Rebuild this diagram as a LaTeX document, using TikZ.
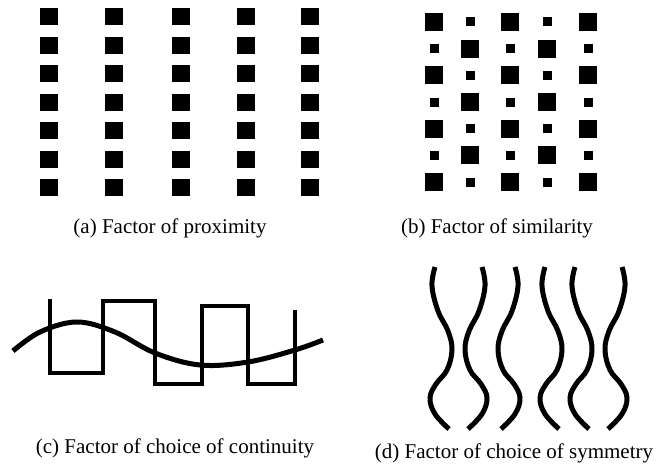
\documentclass[tikz,border=0pt]{standalone}
\usepackage{fontspec}
\setmainfont{Liberation Serif}
\begin{document}
\begin{tikzpicture}[x=1pt,y=-1pt,
  caption/.style={anchor=base,inner sep=0pt,font=\fontsize{21}{25}\selectfont},
  thick line/.style={line width=4.8pt,line cap=butt,line join=miter},
  wavy/.style={line width=5pt,line cap=butt}]
\useasboundingbox[fill=white] (0,0) rectangle (659,470);
% (a) proximity
\foreach \cx in {49,114,181,246,310}{
  \foreach \i in {0,...,6}{
    \fill ({\cx-9},{17+28.5*\i-8.5}) rectangle ++(18,17);
  }
}
\node[caption] (capa) at (170,234) {(a) Factor of proximity};
% (b) similarity
\foreach \cx [count=\c] in {434,470,510,547,588}{
  \foreach \i in {0,...,6}{
    \pgfmathtruncatemacro{\myparity}{mod(\c+\i,2)}
    \ifnum\myparity=1
      \fill ({\cx-9},{22+26.7*\i-9}) rectangle ++(18,18);
    \else
      \fill ({\cx-4.5},{22+26.7*\i-4.5}) rectangle ++(9,9);
    \fi
  }
}
\node[caption] (capb) at (497,234) {(b) Factor of similarity};
% (c) continuity
\draw[thick line] (50,299) -- (50,373) -- (103,373) -- (103,301) -- (155,301)
  -- (155,384) -- (202,384) -- (202,306) -- (248,306) -- (248,384)
  -- (295,384) -- (295,310);
\draw[wavy] plot[smooth,tension=0.6] coordinates {(13,351) (40,332) (77,322) (115,332)
  (155,353) (200,365) (248,362) (295,350) (323,340)};
\node[caption] (capc) at (175,453) {(c) Factor of choice of continuity};
% (d) symmetry
\tikzset{curveA/.pic={
  \draw[wavy] plot[smooth,tension=0.65] coordinates {(-17,267) (-20,286) (-14,311)
    (-4,331) (0,350) (-5,370) (-16,384) (-22,398) (-17,414) (-3,429)};
}}
\foreach \X in {452,562,592}{
  \pic at (\X,0) {curveA};
}
\foreach \m in {465,498,605}{
  \pic[xscale=-1] at (\m,0) {curveA};
}
\node[caption] (capd) at (514,458) {(d) Factor of choice of symmetry};
\end{tikzpicture}
\end{document}
